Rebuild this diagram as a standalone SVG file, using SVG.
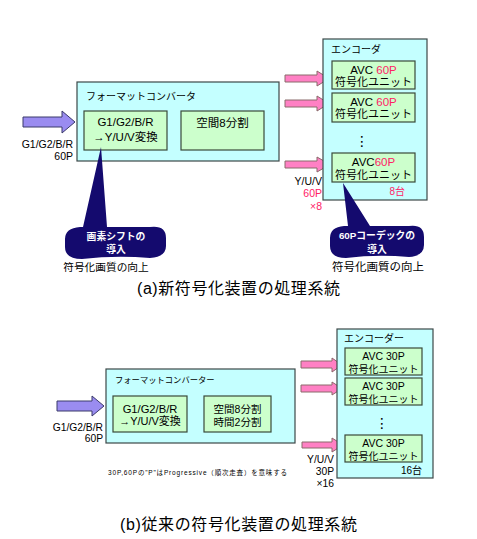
<svg xmlns="http://www.w3.org/2000/svg" width="477" height="539" viewBox="0 0 477 539">
<style>
text{font-family:"Liberation Sans","Noto Sans CJK JP",sans-serif;fill:#000}
.box{fill:#c4ffff;stroke:#3c4848;stroke-width:1.2}
.unit{fill:#ccffcc;stroke:#3a4a3a;stroke-width:1.2}
.parr{fill:#9a8cf0;stroke:#3a3a6a;stroke-width:1}
.karr{fill:#ff80c4;stroke:#8a6a6a;stroke-width:1}
.call{fill:#140a6e}
.ct{fill:#fff;font-weight:bold;font-size:9.8px;text-anchor:middle}
.red{fill:#ff2266}
.m{text-anchor:middle}
.e{text-anchor:end}
.dots{font-family:"DejaVu Sans",sans-serif;font-size:14px;text-anchor:middle}
</style>
<rect width="477" height="539" fill="#fff"/>
<g id="connectors">
<polygon class="parr" points="23,117 62,117 62,111 75,122 62,133 62,127 23,127"/>
<polygon class="karr" points="285,75 317,75 317,71 329,78.5 317,86 317,82 285,82"/>
<polygon class="karr" points="285,100 317,100 317,96 329,103.5 317,111 317,107 285,107"/>
<polygon class="karr" points="285,161 317,161 317,157 330,164.5 317,172 317,168 285,168"/>
<polygon class="parr" points="57,401 92,401 92,396 104,406 92,416 92,411 57,411"/>
<polygon class="karr" points="301,361 332,361 332,358 342,365 332,372 332,368 301,368"/>
<polygon class="karr" points="301,385 332,385 332,382 342,388.5 332,395 332,392 301,392"/>
<polygon class="karr" points="302,442 332,442 332,438 343,445 332,452 332,448 302,448"/>
</g>
<g id="a-input-label">
<text class="e" x="73" y="148" font-size="10.5">G1/G2/B/R</text>
<text class="e" x="73" y="160" font-size="10.5">60P</text>
</g>
<g id="a-converter">
<rect class="box" x="77" y="82" width="202" height="79"/>
<text x="86" y="100" font-size="10">フォーマットコンバータ</text>
</g>
<g id="a-yuv">
<rect class="unit" x="84" y="111" width="83" height="39"/>
<text class="m" x="125.5" y="126" font-size="11.5">G1/G2/B/R</text>
<text class="m" x="125.5" y="141" font-size="11.5">→Y/U/V変換</text>
</g>
<g id="a-split">
<rect class="unit" x="181" y="111" width="83" height="39"/>
<text class="m" x="222.5" y="127" font-size="11.5">空間8分割</text>
</g>
<g id="a-encoder">
<rect class="box" x="323" y="39" width="104" height="161"/>
<text x="331" y="53" font-size="10">エンコーダ</text>
<text class="dots" x="362" y="146">⋮</text>
<text class="e red" x="405" y="195" font-size="10">8台</text>
</g>
<g id="a-unit1">
<rect class="unit" x="332" y="61" width="83" height="28"/>
<text class="m" x="373.5" y="74" font-size="11.5">AVC <tspan class="red">60P</tspan></text>
<text class="m" x="373.5" y="86" font-size="11">符号化ユニット</text>
</g>
<g id="a-unit2">
<rect class="unit" x="332" y="93" width="83" height="29"/>
<text class="m" x="373.5" y="106" font-size="11.5">AVC <tspan class="red">60P</tspan></text>
<text class="m" x="373.5" y="118" font-size="11">符号化ユニット</text>
</g>
<g id="a-unit3">
<rect class="unit" x="332" y="153" width="83" height="29"/>
<text class="m" x="373.5" y="166" font-size="11.5">AVC<tspan class="red">60P</tspan></text>
<text class="m" x="373.5" y="179" font-size="11">符号化ユニット</text>
</g>
<g id="a-yuv-label">
<text class="e" x="322" y="185" font-size="10.5">Y/U/V</text>
<text class="e red" x="322" y="197" font-size="10.5">60P</text>
<text class="e red" x="322" y="210" font-size="10.5">×8</text>
</g>
<g id="a-callout1">
<path class="call" d="M101,147 L107,227 L150,227 Q166,225 166,238 L166,246 Q166,257 150,258 Q116,255 82,259 Q65,259 65,247 L65,239 Q65,228 80,227 L83,227 Z"/>
<text class="ct" x="116" y="240">画素シフトの</text>
<text class="ct" x="116" y="253">導入</text>
<text class="m" x="106" y="271" font-size="10.7">符号化画質の向上</text>
</g>
<g id="a-callout2">
<path class="call" d="M343,183 L370,226 L409,226 Q424,224 424,237 L424,245 Q424,256 409,257 Q377,254 346,258 Q330,258 330,246 L330,238 Q330,227 344,226 L348,226 Z"/>
<text class="ct" x="377" y="239">60Pコーデックの</text>
<text class="ct" x="377" y="253">導入</text>
<text class="m" x="378" y="271" font-size="11.5">符号化画質の向上</text>
</g>
<text x="137" y="294" font-size="16" textLength="203">(a)新符号化装置の処理系統</text>
<g id="b-input-label">
<text class="e" x="103" y="431" font-size="10.3">G1/G2/B/R</text>
<text class="e" x="103" y="442" font-size="10.3">60P</text>
</g>
<g id="b-converter">
<rect class="box" x="106" y="369" width="189" height="74"/>
<text x="115" y="383" font-size="8.3">フォーマットコンバーター</text>
</g>
<g id="b-yuv">
<rect class="unit" x="113" y="396" width="74" height="36"/>
<text class="m" x="150" y="413" font-size="11.2">G1/G2/B/R</text>
<text class="m" x="150" y="425" font-size="11">→Y/U/V変換</text>
</g>
<g id="b-split">
<rect class="unit" x="204" y="396" width="67" height="36"/>
<text class="m" x="237.5" y="413" font-size="10.5">空間8分割</text>
<text class="m" x="237.5" y="426" font-size="10.5">時間2分割</text>
</g>
<g id="b-encoder">
<rect class="box" x="337" y="329" width="96" height="149"/>
<text x="344" y="342" font-size="10">エンコーダー</text>
<text class="dots" x="382" y="428">⋮</text>
<text class="e" x="422" y="474" font-size="10">16台</text>
</g>
<g id="b-unit1">
<rect class="unit" x="345" y="348" width="77" height="27"/>
<text class="m" x="383.5" y="360" font-size="10.5">AVC 30P</text>
<text class="m" x="383.5" y="373" font-size="10">符号化ユニット</text>
</g>
<g id="b-unit2">
<rect class="unit" x="345" y="378" width="77" height="27"/>
<text class="m" x="383.5" y="390" font-size="10.5">AVC 30P</text>
<text class="m" x="383.5" y="403" font-size="10">符号化ユニット</text>
</g>
<g id="b-unit3">
<rect class="unit" x="345" y="435" width="77" height="27"/>
<text class="m" x="383.5" y="447" font-size="10.5">AVC 30P</text>
<text class="m" x="383.5" y="460" font-size="10">符号化ユニット</text>
</g>
<g id="b-yuv-label">
<text class="e" x="334" y="463" font-size="10.3">Y/U/V</text>
<text class="e" x="334" y="475" font-size="10.3">30P</text>
<text class="e" x="334" y="487" font-size="10.3">×16</text>
</g>
<text x="108" y="475" font-size="6.5" textLength="179">30P,60Pの"P"はProgressive（順次走査）を意味する</text>
<text x="120" y="530" font-size="16" textLength="237">(b)従来の符号化装置の処理系統</text>
</svg>
